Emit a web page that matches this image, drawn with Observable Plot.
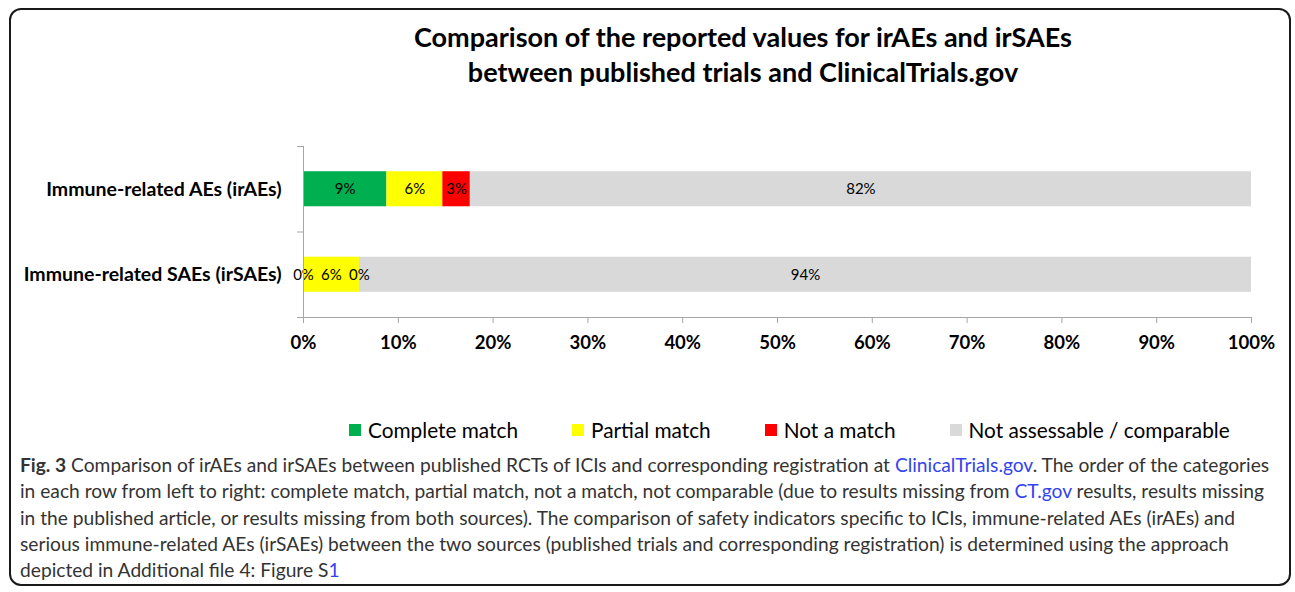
<!DOCTYPE html>
<html>
<head>
<meta charset="utf-8">
<script src="https://cdn.jsdelivr.net/npm/d3@7"></script>
<script src="https://cdn.jsdelivr.net/npm/@observablehq/plot@0.6"></script>
<style>
  html, body { margin: 0; padding: 0; background: #fff; width: 1295px; height: 592px; overflow: hidden; }
  body { position: relative; font-family: Lato, "Open Sans", sans-serif; }
  #frame { position: absolute; left: 9px; top: 8px; width: 1278px; height: 574px; border: 2px solid #1a1a1a; border-radius: 12px; }
  #title { position: absolute; left: 243px; width: 1000px; top: 19px; text-align: center; font: bold 27px/35px Lato, sans-serif; color: #000; }
  #chart { position: absolute; left: 0; top: 120px; }
  #legend { position: absolute; left: 349px; top: 417px; display: flex; gap: 54px; align-items: center; font: 20.8px/26px Lato, sans-serif; color: #000; }
  #legend .item { display: flex; align-items: center; gap: 7px; }
  #legend .sw { width: 12px; height: 12px; display: inline-block; }
  #caption { position: absolute; left: 20px; top: 452px; width: 1270px; font: 19.2px/26.3px Lato, sans-serif; color: #333; white-space: nowrap; }
  #caption a { color: #3344ee; text-decoration: none; }
  #chart svg text { font-family: Lato, sans-serif; }
</style>
</head>
<body>
<div id="frame"></div>
<div id="title">Comparison of the reported values for irAEs and irSAEs<br>between published trials and ClinicalTrials.gov</div>
<div id="chart"></div>
<div id="legend"></div>
<div id="caption"><b>Fig. 3</b> Comparison of irAEs and irSAEs between published RCTs of ICIs and corresponding registration at <a>ClinicalTrials.gov</a>. The order of the categories<br>in each row from left to right: complete match, partial match, not a match, not comparable (due to results missing from <a>CT.gov</a> results, results missing<br>in the published article, or results missing from both sources). The comparison of safety indicators specific to ICIs, immune-related AEs (irAEs) and<br>serious immune-related AEs (irSAEs) between the two sources (published trials and corresponding registration) is determined using the approach<br>depicted in Additional file 4: Figure S<a>1</a></div>
<script>
const categories = ["Complete match", "Partial match", "Not a match", "Not assessable / comparable"];
const colors = ["#00B050", "#FFFF00", "#FF0000", "#D9D9D9"];
const rows = ["Immune-related AEs (irAEs)", "Immune-related SAEs (irSAEs)"];
const irAEs = [8.8, 5.9, 2.9, 82.4];
const irSAEs = [0, 5.9, 0, 94.1];
const xTicks = [0, 10, 20, 30, 40, 50, 60, 70, 80, 90, 100];

const series = [irAEs, irSAEs];
const half = 0.205;
const segments = [];
series.forEach((vals, r) => {
  let acc = 0;
  vals.forEach((v, i) => {
    segments.push({row: rows[r], idx: r, category: categories[i], value: v, x1: acc, x2: acc + v});
    acc += v;
  });
});
const rowData = rows.map((name, i) => ({name, idx: i}));

const chart = Plot.plot({
  width: 1295,
  height: 240,
  marginLeft: 303,
  marginRight: 44,
  marginTop: 26,
  marginBottom: 43,
  x: {domain: [0, 100]},
  y: {domain: [2, 0]},
  color: {domain: categories, range: colors},
  marks: [
    Plot.rect(segments, {x1: "x1", x2: "x2", y1: d => d.idx + 0.5 - half, y2: d => d.idx + 0.5 + half, fill: "category"}),
    Plot.text(segments, {x: d => (d.x1 + d.x2) / 2, y: d => d.idx + 0.5, text: d => Math.round(d.value) + "%", fontSize: 15, fill: "#000"}),
    Plot.text(rowData, {x: 0, y: d => d.idx + 0.5, text: "name", textAnchor: "end", dx: -22, fontSize: 19.5, fontWeight: "bold", fill: "#000"}),
    Plot.axisX({ticks: xTicks, tickFormat: d => d + "%", tickSize: 6, tickPadding: 12, stroke: "#a6a6a6", fill: "#000", fontSize: 18.5, fontWeight: "bold"}),
    Plot.axisY({ticks: [0, 1, 2], tickFormat: () => "", tickSize: 6, stroke: "#a6a6a6"}),
    Plot.ruleY([2], {stroke: "#a6a6a6"}),
    Plot.ruleX([0], {y1: 0, y2: 2, stroke: "#a6a6a6"})
  ]
});
document.getElementById("chart").appendChild(chart);

const legend = document.getElementById("legend");
categories.forEach((c, i) => {
  const item = document.createElement("div");
  item.className = "item";
  const sw = document.createElement("span");
  sw.className = "sw";
  sw.style.background = colors[i];
  const t = document.createElement("span");
  t.textContent = c;
  item.appendChild(sw);
  item.appendChild(t);
  legend.appendChild(item);
});
</script>
</body>
</html>
